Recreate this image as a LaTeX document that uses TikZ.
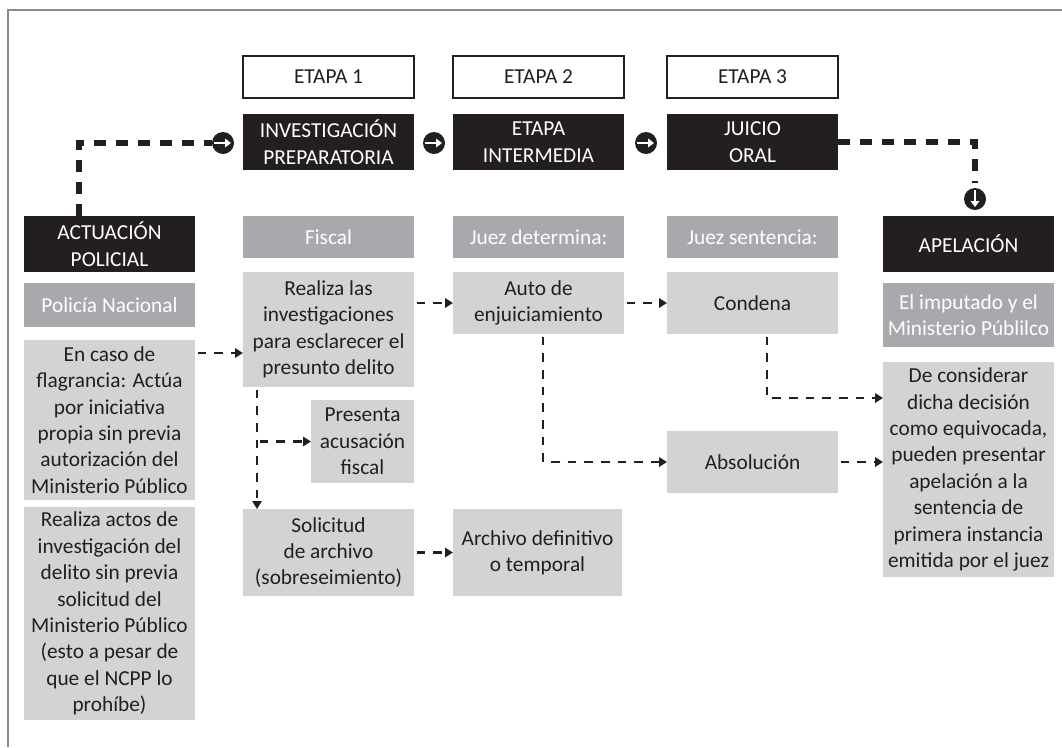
\documentclass[tikz,border=0pt]{standalone}
\usepackage{fontspec}
\setmainfont{Carlito}
\usetikzlibrary{arrows.meta}
\definecolor{blk}{HTML}{231F20}
\definecolor{midg}{HTML}{A7A9AC}
\definecolor{lig}{HTML}{D1D3D4}
\definecolor{frm}{HTML}{8C8C8C}
\newcommand\bx[7]{\node[#1, minimum width={(#4-#2)*0.75pt}, minimum height={(#5-#3)*0.75pt}] (#6) at ({(#2+#4)/2},{(#3+#5)/2}) {#7};}
\tikzset{
  base/.style={inner sep=0pt, outer sep=0pt, align=center, font=\fontsize{16}{19.8}\selectfont},
  blackbox/.style={base, fill=blk, text=white},
  midbox/.style={base, fill=midg, text=white},
  litebox/.style={base, fill=lig, text=blk},
  etapabox/.style={base, draw=blk, line width=1.1pt, fill=white, text=blk},
  arr/.style={draw=blk, line width=1.6pt, dash pattern=on 6.5pt off 6pt, shorten <=2pt, -{Triangle[length=6pt,width=7pt]}},
  thickdash/.style={draw=blk, line width=3.8pt, dash pattern=on 9pt off 7.5pt},
  circR/.style={circle, fill=blk, minimum size=16.5pt, inner sep=0pt, outer sep=0pt,
    path picture={\draw[white, line width=1.8pt, -{Triangle[length=4.5pt,width=6.5pt]}] ([xshift=-6.5pt]path picture bounding box.center) -- ([xshift=6pt]path picture bounding box.center);}},
  circD/.style={circle, fill=blk, minimum size=16.5pt, inner sep=0pt, outer sep=0pt,
    path picture={\draw[white, line width=1.8pt, -{Triangle[length=4.5pt,width=6.5pt]}] ([yshift=6.5pt]path picture bounding box.center) -- ([yshift=-6pt]path picture bounding box.center);}}
}
\begin{document}
\begin{tikzpicture}[x=0.75pt,y=-0.75pt]
\useasboundingbox (0,0) rectangle (1062,747);
\draw[frm, line width=2pt] (8,747) -- (8,10) -- (1062,10);

\bx{etapabox}{243}{56}{414}{98}{e1}{ETAPA 1}
\bx{etapabox}{453}{56}{624}{98}{e2}{ETAPA 2}
\bx{etapabox}{667}{56}{838}{98}{e3}{ETAPA 3}
\bx{blackbox}{243}{114}{414}{170}{inv}{INVESTIGACIÓN\\PREPARATORIA}
\bx{blackbox}{453}{114}{624}{170}{inter}{ETAPA\\INTERMEDIA}
\bx{blackbox}{667}{114}{838}{170}{juicio}{JUICIO\\ORAL}
\bx{blackbox}{24}{216}{195}{272}{act}{ACTUACIÓN\\POLICIAL}
\bx{blackbox}{883}{216}{1054}{272}{apel}{APELACIÓN}
\bx{midbox}{24}{283}{195}{327}{pol}{Policía Nacional}
\bx{midbox}{243}{216}{414}{258}{fiscal}{Fiscal}
\bx{midbox}{453}{216}{624}{258}{jdet}{Juez determina:}
\bx{midbox}{667}{216}{838}{258}{jsen}{Juez sentencia:}
\bx{midbox}{883}{283}{1054}{347}{imp}{El imputado y el\\Ministerio Públilco}
\bx{litebox}{24}{340}{195}{500}{caso}{En caso de\\flagrancia: Actúa\\por iniciativa\\propia sin previa\\autorización del\\Ministerio Público}
\bx{litebox}{24}{507}{195}{720}{actos}{Realiza actos de\\investigación del\\delito sin previa\\solicitud del\\Ministerio Público\\(esto a pesar de\\que el NCPP lo\\prohíbe)}
\bx{litebox}{243}{272}{414}{387}{realiza}{Realiza las\\investigaciones\\para esclarecer el\\presunto delito}
\bx{litebox}{311}{400}{414}{483}{pres}{Presenta\\acusación\\fiscal}
\bx{litebox}{243}{509}{414}{596}{sol}{Solicitud\\de archivo\\(sobreseimiento)}
\bx{litebox}{453}{272}{624}{334}{auto}{Auto de\\enjuiciamiento}
\bx{litebox}{453}{509}{622}{596}{arch}{Archivo definitivo\\o temporal}
\bx{litebox}{667}{272}{838}{334}{cond}{Condena}
\bx{litebox}{667}{431}{838}{493}{abs}{Absolución}
\bx{litebox}{883}{362}{1054}{577}{cons}{De considerar\\dicha decisión\\como equivocada,\\pueden presentar\\apelación a la\\sentencia de\\primera instancia\\emitida por el juez}

\node[circR] (c1) at (223,143) {};
\node[circR] (c2) at (434,143) {};
\node[circR] (c3) at (646,143) {};
\node[circD] (c4) at (975,199) {};

\coordinate (k1) at (79,0);
\coordinate (y353) at (0,353);
\coordinate (kx) at (257,0);
\coordinate (kx2) at (543,0);
\coordinate (kx3) at (767,0);
\coordinate (y398) at (0,398);

\draw[thickdash] (act.north -| k1) |- (c1.west);
\draw[thickdash, shorten >=4pt] (juicio.east) -| (c4.north);

\draw[arr] (caso.east |- y353) -- (realiza.west |- y353);
\draw[arr] (realiza.east |- auto.west) -- (auto.west);
\draw[arr] (auto.east) -- (cond.west);
\draw[arr] (realiza.south -| kx) -- (sol.north -| kx);
\draw[arr] (kx |- pres.west) -- (pres.west);
\draw[arr] (sol.east |- arch.west) -- (arch.west);
\draw[arr] (auto.south -| kx2) |- (abs.west);
\draw[arr] (cond.south -| kx3) |- (cons.west |- y398);
\draw[arr] (abs.east) -- (cons.west |- abs.east);
\end{tikzpicture}
\end{document}
